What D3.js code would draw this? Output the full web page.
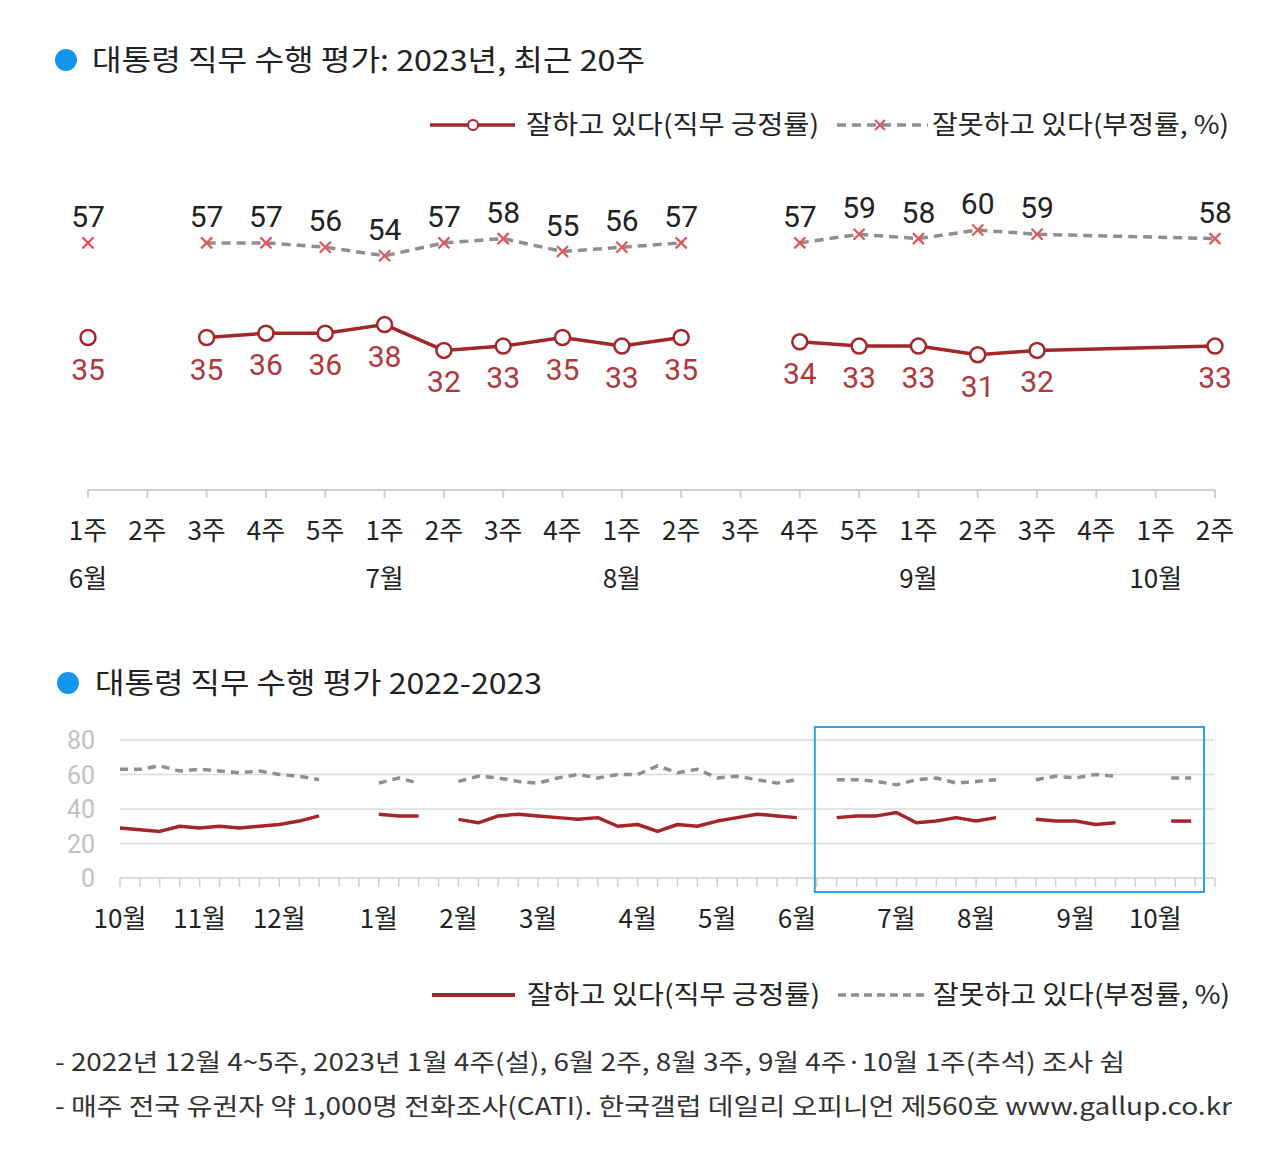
<!DOCTYPE html>
<html><head><meta charset="utf-8">
<script src="https://cdn.jsdelivr.net/npm/d3@7/dist/d3.min.js"></script>
<style>
html,body{margin:0;padding:0;background:#fff;}
text{font-family:"Noto Sans CJK KR","Noto Sans",sans-serif;}
.num{font-family:Roboto,"Noto Sans",sans-serif;}
</style></head>
<body><svg id="c" width="1280" height="1157"></svg>
<script>
// ---------- DATA: top chart (2023, last 20 weeks) ----------
const topWeeks  = ["1주","2주","3주","4주","5주","1주","2주","3주","4주","1주","2주","3주","4주","5주","1주","2주","3주","4주","1주","2주"];
const topMonths = [{m:"6월",i:0},{m:"7월",i:5},{m:"8월",i:9},{m:"9월",i:14},{m:"10월",i:18}];
const topPos    = [35,null,35,36,36,38,32,33,35,33,35,null,34,33,33,31,32,null,null,33];
const topNeg    = [57,null,57,57,56,54,57,58,55,56,57,null,57,59,58,60,59,null,null,58];
// line segment each week belongs to (gaps between 9월 3주 and 10월 2주 are bridged in the original)
const topSegment= [0,null,1,1,1,1,1,1,1,1,1,null,2,2,2,2,2,null,null,2];

// ---------- DATA: bottom chart (2022-2023 weekly) ----------
const botMonths = ["10월","11월","12월","1월","2월","3월","4월","5월","6월","7월","8월","9월","10월"];
const botWeeksPerMonth = [4,4,5,4,4,5,4,4,5,4,5,4,4];
const botPos = [29,28,27,30, 29,30,29,30, 31,33,36,null,null, 37,36,36,null, 34,32,36,37, 36,35,34,35,30, 31,27,31,30, 33,35,37,36, 35,null,35,36,36, 38,32,33,35, 33,35,null,34,33, 33,31,32,null, null,33,null,null];
const botNeg = [63,63,65,62, 63,62,61,62, 60,59,57,null,null, 55,58,55,null, 56,59,58,56, 55,58,60,58,60, 60,65,61,63, 58,59,57,55, 57,null,57,57,56, 54,57,58,55, 56,57,null,57,59, 58,60,59,null, null,58,null,null];
const botYTicks = [0,20,40,60,80];

const titleTop = "대통령 직무 수행 평가: 2023년, 최근 20주";
const titleBot = "대통령 직무 수행 평가 2022-2023";
const legendPos = "잘하고 있다(직무 긍정률)";
const legendNeg = "잘못하고 있다(부정률, %)";
const notes = ["- 2022년 12월 4~5주, 2023년 1월 4주(설), 6월 2주, 8월 3주, 9월 4주·10월 1주(추석) 조사 쉼",
               "- 매주 전국 유권자 약 1,000명 전화조사(CATI). 한국갤럽 데일리 오피니언 제560호 www.gallup.co.kr"];

// ---------- STYLE ----------
const RED = "#a3262b", RED_TXT = "#b0373c", XRED = "#e0575c", GRAY = "#8f8f8f", BLUE = "#1296ec", DARK = "#222";
const svg = d3.select("#c");

// ---------- TITLES ----------
svg.append("circle").attr("cx",66).attr("cy",60).attr("r",11).attr("fill",BLUE);
svg.append("text").attr("x",92).attr("y",71).attr("font-size",29).attr("fill",DARK)
   .attr("textLength",553).attr("lengthAdjust","spacingAndGlyphs").text(titleTop);

// ---------- TOP LEGEND ----------
function legend(g, y, withMarkers){
  g.append("line").attr("x1",430).attr("x2",515).attr("y1",y).attr("y2",y).attr("stroke",RED).attr("stroke-width",3.5);
  if(withMarkers) g.append("circle").attr("cx",473).attr("cy",y).attr("r",5).attr("fill","#fff").attr("stroke",RED).attr("stroke-width",2);
  g.append("text").attr("x",526).attr("y",y+9).attr("font-size",26).attr("fill",DARK)
   .attr("textLength",293).attr("lengthAdjust","spacingAndGlyphs").text(legendPos);
  g.append("line").attr("x1",837).attr("x2",928).attr("y1",y).attr("y2",y).attr("stroke",GRAY).attr("stroke-width",3.5).attr("stroke-dasharray","9,6");
  if(withMarkers){
    const s=5;
    g.append("path").attr("d",`M${880-s},${y-s}L${880+s},${y+s}M${880-s},${y+s}L${880+s},${y-s}`).attr("stroke",XRED).attr("stroke-width",2.2);
  }
  g.append("text").attr("x",932).attr("y",y+9).attr("font-size",26).attr("fill",DARK)
   .attr("textLength",297).attr("lengthAdjust","spacingAndGlyphs").text(legendNeg);
}
legend(svg.append("g"),125,true);

// ---------- TOP CHART ----------
const xT = d3.scalePoint().domain(d3.range(topWeeks.length)).range([88,1215]);
const yT = d3.scaleLinear().domain([0,80]).range([488,144]);
const gT = svg.append("g");

// axis
gT.append("line").attr("x1",xT(0)).attr("x2",xT(topWeeks.length-1)).attr("y1",490).attr("y2",490).attr("stroke","#cfcfcf").attr("stroke-width",2);
gT.selectAll(".tk").data(d3.range(topWeeks.length)).enter().append("line")
  .attr("x1",d=>xT(d)).attr("x2",d=>xT(d)).attr("y1",490).attr("y2",498).attr("stroke","#cfcfcf").attr("stroke-width",2);
gT.selectAll(".wk").data(topWeeks).enter().append("text")
  .attr("x",(d,i)=>xT(i)).attr("y",540).attr("text-anchor","middle").attr("font-size",26).attr("fill",DARK).text(d=>d);
gT.selectAll(".mo").data(topMonths).enter().append("text")
  .attr("x",d=>xT(d.i)).attr("y",588).attr("text-anchor","middle").attr("font-size",26).attr("fill",DARK).text(d=>d.m);

// lines by segment
function segPoints(vals){
  const segs = d3.group(d3.range(vals.length).filter(i=>vals[i]!=null && topSegment[i]!=null), i=>topSegment[i]);
  return Array.from(segs.values());
}
const lineT = vals => d3.line().x(i=>xT(i)).y(i=>yT(vals[i]));
segPoints(topNeg).forEach(s=>{ if(s.length>1)
  gT.append("path").attr("d",lineT(topNeg)(s)).attr("fill","none").attr("stroke",GRAY).attr("stroke-width",3.5).attr("stroke-dasharray","9,6"); });
segPoints(topPos).forEach(s=>{ if(s.length>1)
  gT.append("path").attr("d",lineT(topPos)(s)).attr("fill","none").attr("stroke",RED).attr("stroke-width",3.5); });

const negIdx = d3.range(topNeg.length).filter(i=>topNeg[i]!=null);
const posIdx = d3.range(topPos.length).filter(i=>topPos[i]!=null);
gT.selectAll(".xm").data(negIdx).enter().append("path")
  .attr("d",i=>{const x=xT(i),y=yT(topNeg[i]),s=5.5;return `M${x-s},${y-s}L${x+s},${y+s}M${x-s},${y+s}L${x+s},${y-s}`;})
  .attr("stroke",XRED).attr("stroke-width",2.2).attr("fill","none");
gT.selectAll(".cm").data(posIdx).enter().append("circle")
  .attr("cx",i=>xT(i)).attr("cy",i=>yT(topPos[i])).attr("r",7.5).attr("fill","#fff").attr("stroke",RED).attr("stroke-width",2.5);
gT.selectAll(".nl").data(negIdx).enter().append("text").attr("class","num")
  .attr("x",i=>xT(i)).attr("y",i=>yT(topNeg[i])-16).attr("text-anchor","middle").attr("font-size",30).attr("fill",DARK).text(i=>topNeg[i]);
gT.selectAll(".pl").data(posIdx).enter().append("text").attr("class","num")
  .attr("x",i=>xT(i)).attr("y",i=>yT(topPos[i])+42).attr("text-anchor","middle").attr("font-size",30).attr("fill",RED_TXT).text(i=>topPos[i]);

// ---------- BOTTOM TITLE ----------
svg.append("circle").attr("cx",68).attr("cy",683).attr("r",11).attr("fill",BLUE);
svg.append("text").attr("x",95).attr("y",694).attr("font-size",29).attr("fill",DARK)
   .attr("textLength",447).attr("lengthAdjust","spacingAndGlyphs").text(titleBot);

// ---------- BOTTOM CHART ----------
const nB = botPos.length;
const xB = d3.scaleLinear().domain([0,nB-1]).range([120,1215]);
const yB = d3.scaleLinear().domain([0,80]).range([878,740]);
const gB = svg.append("g");
gB.selectAll(".gl").data(botYTicks.filter(d=>d>0)).enter().append("line")
  .attr("x1",120).attr("x2",1215).attr("y1",d=>yB(d)).attr("y2",d=>yB(d)).attr("stroke","#dcdcdc").attr("stroke-width",1.5);
gB.selectAll(".yl").data(botYTicks).enter().append("text").attr("class","num")
  .attr("x",95).attr("y",d=>yB(d)+9).attr("text-anchor","end").attr("font-size",25).attr("fill","#c2c2c2").text(d=>d);
gB.append("line").attr("x1",120).attr("x2",1215).attr("y1",878).attr("y2",878).attr("stroke","#cfcfcf").attr("stroke-width",1.5);
gB.selectAll(".bt").data(d3.range(nB)).enter().append("line")
  .attr("x1",d=>xB(d)).attr("x2",d=>xB(d)).attr("y1",878).attr("y2",887).attr("stroke","#cfcfcf").attr("stroke-width",1.5);
const monthStart = botWeeksPerMonth.map((w,i)=>d3.sum(botWeeksPerMonth.slice(0,i)));
gB.selectAll(".bm").data(botMonths).enter().append("text")
  .attr("x",(d,i)=>xB(monthStart[i])).attr("y",928).attr("text-anchor","middle").attr("font-size",26).attr("fill",DARK).text(d=>d);

function drawSeries(vals, color, dash){
  const line = d3.line().defined(d=>d!=null).x((d,i)=>xB(i)).y(d=>yB(d));
  gB.append("path").attr("d",line(vals)).attr("fill","none").attr("stroke",color).attr("stroke-width",3.5)
    .attr("stroke-dasharray",dash).attr("stroke-linejoin","round");
  // isolated points shown as a short stub
  const iso = d3.range(vals.length).filter(i=>vals[i]!=null && vals[i-1]==null && vals[i+1]==null);
  gB.selectAll(null).data(iso).enter().append("line")
    .attr("x1",i=>xB(i)-4).attr("x2",i=>xB(i)+16).attr("y1",i=>yB(vals[i])).attr("y2",i=>yB(vals[i]))
    .attr("stroke",color).attr("stroke-width",3.5).attr("stroke-dasharray",dash);
}
drawSeries(botNeg, GRAY, "8,6");
drawSeries(botPos, RED, null);

// highlight box (recent 20 weeks)
gB.append("rect").attr("x",xB(34.9)).attr("y",727).attr("width",xB(54.45)-xB(34.9)).attr("height",165)
  .attr("fill","none").attr("stroke","#2ba4ea").attr("stroke-width",2);

// ---------- BOTTOM LEGEND ----------
const gL = svg.append("g");
gL.append("line").attr("x1",432).attr("x2",515).attr("y1",995).attr("y2",995).attr("stroke",RED).attr("stroke-width",4);
gL.append("text").attr("x",527).attr("y",1004).attr("font-size",26).attr("fill",DARK)
  .attr("textLength",293).attr("lengthAdjust","spacingAndGlyphs").text(legendPos);
gL.append("line").attr("x1",838).attr("x2",928).attr("y1",995).attr("y2",995).attr("stroke",GRAY).attr("stroke-width",3.5).attr("stroke-dasharray","8,5");
gL.append("text").attr("x",933).attr("y",1004).attr("font-size",26).attr("fill",DARK)
  .attr("textLength",297).attr("lengthAdjust","spacingAndGlyphs").text(legendNeg);

// ---------- NOTES ----------
const noteLen = [1070,1177];
svg.selectAll(".note").data(notes).enter().append("text")
  .attr("x",55).attr("y",(d,i)=>1071+i*44).attr("font-size",24).attr("fill","#333")
  .attr("textLength",(d,i)=>noteLen[i]).attr("lengthAdjust","spacingAndGlyphs").text(d=>d);
</script></body></html>
